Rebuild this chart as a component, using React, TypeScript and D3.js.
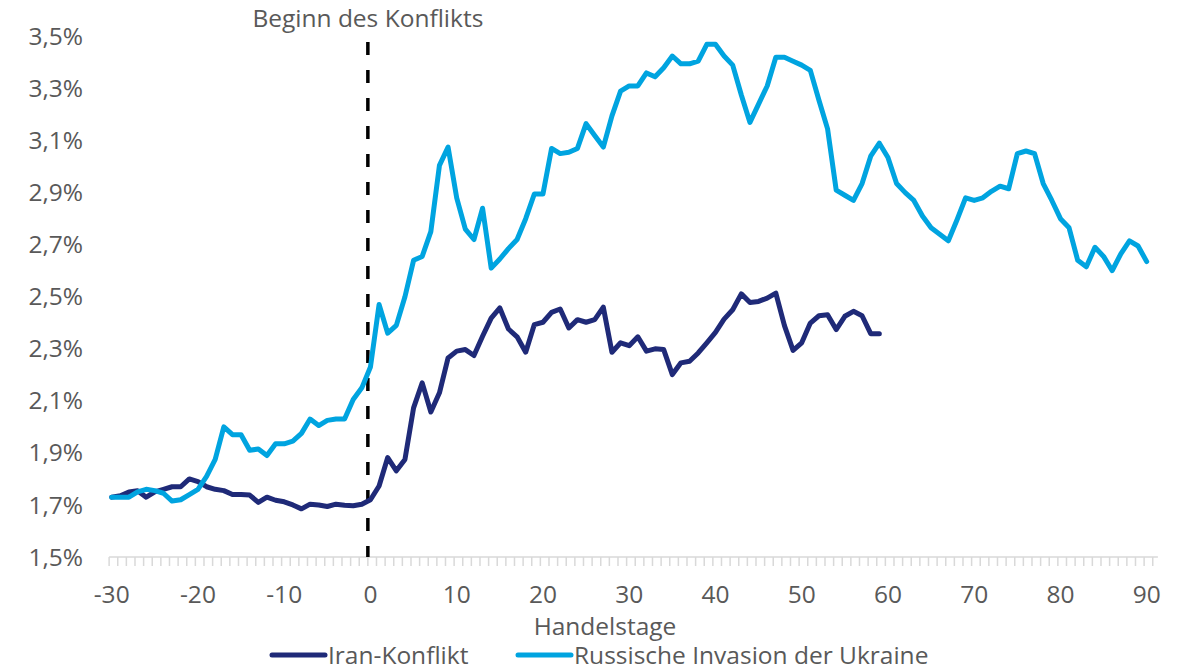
import React, { useRef, useEffect } from 'react';
import * as d3 from 'd3';

// Handelstage relativ zum Konfliktbeginn
const startDay = -30;

// Russische Invasion der Ukraine, Tage -30 .. 90
const ukraine = [
  1.73, 1.73, 1.73, 1.75, 1.76, 1.755, 1.745, 1.715, 1.72, 1.74,
  1.76, 1.81, 1.875, 2.0, 1.97, 1.97, 1.91, 1.915, 1.89, 1.935,
  1.935, 1.945, 1.975, 2.03, 2.005, 2.025, 2.03, 2.03, 2.105, 2.15,
  2.23, 2.47, 2.36, 2.39, 2.5, 2.64, 2.655, 2.75, 3.005, 3.075,
  2.88, 2.76, 2.72, 2.84, 2.61, 2.645, 2.685, 2.72, 2.8, 2.895,
  2.895, 3.07, 3.05, 3.055, 3.07, 3.165, 3.12, 3.075, 3.195, 3.29,
  3.31, 3.31, 3.36, 3.345, 3.38, 3.425, 3.395, 3.395, 3.405, 3.47,
  3.47, 3.425, 3.39, 3.275, 3.17, 3.24, 3.31, 3.42, 3.42, 3.405,
  3.39, 3.37, 3.255, 3.145, 2.91, 2.89, 2.87, 2.935, 3.04, 3.09,
  3.035, 2.935, 2.9, 2.87, 2.81, 2.765, 2.74, 2.715, 2.795, 2.88,
  2.87, 2.88, 2.905, 2.925, 2.915, 3.05, 3.06, 3.05, 2.935, 2.87,
  2.8, 2.765, 2.64, 2.615, 2.69, 2.655, 2.6, 2.665, 2.715, 2.695,
  2.635,
];

// Iran-Konflikt, Tage -30 .. 59
const iran = [
  1.73, 1.735, 1.75, 1.755, 1.73, 1.75, 1.76, 1.77, 1.77, 1.8,
  1.79, 1.77, 1.76, 1.755, 1.74, 1.74, 1.738, 1.71, 1.73, 1.718,
  1.712, 1.7, 1.685, 1.703, 1.7, 1.694, 1.703, 1.699, 1.697, 1.703,
  1.72, 1.773, 1.882, 1.831, 1.875, 2.073, 2.169, 2.057, 2.131, 2.265,
  2.291, 2.297, 2.274, 2.348, 2.418, 2.457, 2.376, 2.346, 2.287, 2.393,
  2.402, 2.44, 2.453, 2.38, 2.412, 2.402, 2.412, 2.46, 2.287, 2.323,
  2.312, 2.346, 2.291, 2.3, 2.297, 2.201, 2.246, 2.252, 2.284, 2.323,
  2.363, 2.414, 2.45, 2.511, 2.478, 2.482, 2.495, 2.514, 2.389, 2.294,
  2.323, 2.399, 2.427, 2.431, 2.374, 2.425, 2.444, 2.427, 2.358, 2.358,
];

const xTicks = [-30, -20, -10, 0, 10, 20, 30, 40, 50, 60, 70, 80, 90];
const yTicks = [1.5, 1.7, 1.9, 2.1, 2.3, 2.5, 2.7, 2.9, 3.1, 3.3, 3.5];
const eventDay = -0.3;

const series = [
  { name: 'Iran-Konflikt', values: iran, color: '#1f2a78' },
  { name: 'Russische Invasion der Ukraine', values: ukraine, color: '#00a4e0' },
];

const width = 1191;
const height = 672;
const font = '"Open Sans", Lato, sans-serif';
const fontSize = 24.5;
const textColor = '#595959';

const App = () => {
  const svgRef = useRef(null);

  useEffect(() => {
    const svg = d3.select(svgRef.current);
    svg.selectAll('*').remove();

    const x = d3.scaleLinear().domain([-30, 90]).range([111.7, 1146.7]);
    const y = d3.scaleLinear().domain([1.5, 3.5]).range([557, 36.5]);

    // y-axis labels
    svg.append('g')
      .selectAll('text')
      .data(yTicks)
      .enter().append('text')
      .attr('x', 83)
      .attr('y', d => y(d))
      .attr('dy', '0.35em')
      .attr('text-anchor', 'end')
      .attr('font-family', font)
      .attr('font-size', fontSize)
      .attr('fill', textColor)
      .text(d => d3.format('.1f')(d).replace('.', ',') + '%');

    // x-axis with a small tick every day
    const axisY = y(1.5);
    const dayTicks = d3.range(-30, 92).map(d => d - 0.3);
    const axis = svg.append('g');
    axis.append('line')
      .attr('x1', x(-30.3))
      .attr('x2', x(91.3))
      .attr('y1', axisY)
      .attr('y2', axisY)
      .attr('stroke', '#d9d9d9')
      .attr('stroke-width', 1.5);
    axis.selectAll('.tick')
      .data(dayTicks)
      .enter().append('line')
      .attr('class', 'tick')
      .attr('x1', d => x(d))
      .attr('x2', d => x(d))
      .attr('y1', axisY)
      .attr('y2', axisY + 9)
      .attr('stroke', '#d9d9d9')
      .attr('stroke-width', 1.5);
    axis.selectAll('.xlabel')
      .data(xTicks)
      .enter().append('text')
      .attr('class', 'xlabel')
      .attr('x', d => x(d))
      .attr('y', 594)
      .attr('dy', '0.35em')
      .attr('text-anchor', 'middle')
      .attr('font-family', font)
      .attr('font-size', fontSize)
      .attr('fill', textColor)
      .text(d => d);

    svg.append('text')
      .attr('x', 605)
      .attr('y', 626)
      .attr('dy', '0.35em')
      .attr('text-anchor', 'middle')
      .attr('font-family', font)
      .attr('font-size', fontSize)
      .attr('fill', textColor)
      .text('Handelstage');

    // event marker
    svg.append('line')
      .attr('x1', x(eventDay))
      .attr('x2', x(eventDay))
      .attr('y1', 42)
      .attr('y2', axisY)
      .attr('stroke', '#000')
      .attr('stroke-width', 3.5)
      .attr('stroke-dasharray', '13,15');
    svg.append('text')
      .attr('x', x(eventDay))
      .attr('y', 18)
      .attr('dy', '0.35em')
      .attr('text-anchor', 'middle')
      .attr('font-family', font)
      .attr('font-size', fontSize)
      .attr('fill', textColor)
      .text('Beginn des Konflikts');

    // lines
    const line = d3.line()
      .x((d, i) => x(startDay + i))
      .y(d => y(d));

    svg.selectAll('.series')
      .data(series)
      .enter().append('path')
      .attr('class', 'series')
      .attr('d', d => line(d.values))
      .attr('fill', 'none')
      .attr('stroke', d => d.color)
      .attr('stroke-width', 5)
      .attr('stroke-linejoin', 'round')
      .attr('stroke-linecap', 'round');

    // legend
    const legendX = [272, 518];
    const legend = svg.append('g')
      .selectAll('g')
      .data(series)
      .enter().append('g')
      .attr('transform', (d, i) => `translate(${legendX[i]},655)`);
    legend.append('line')
      .attr('x1', 0)
      .attr('x2', 53)
      .attr('stroke', d => d.color)
      .attr('stroke-width', 5)
      .attr('stroke-linecap', 'round');
    legend.append('text')
      .attr('x', 56)
      .attr('dy', '0.35em')
      .attr('font-family', font)
      .attr('font-size', fontSize)
      .attr('fill', textColor)
      .text(d => d.name);
  }, []);

  return (
    <svg
      ref={svgRef}
      width={width}
      height={height}
      style={{ position: 'absolute', left: 0, top: 0, background: '#fff' }}
    />
  );
};

export default App;
